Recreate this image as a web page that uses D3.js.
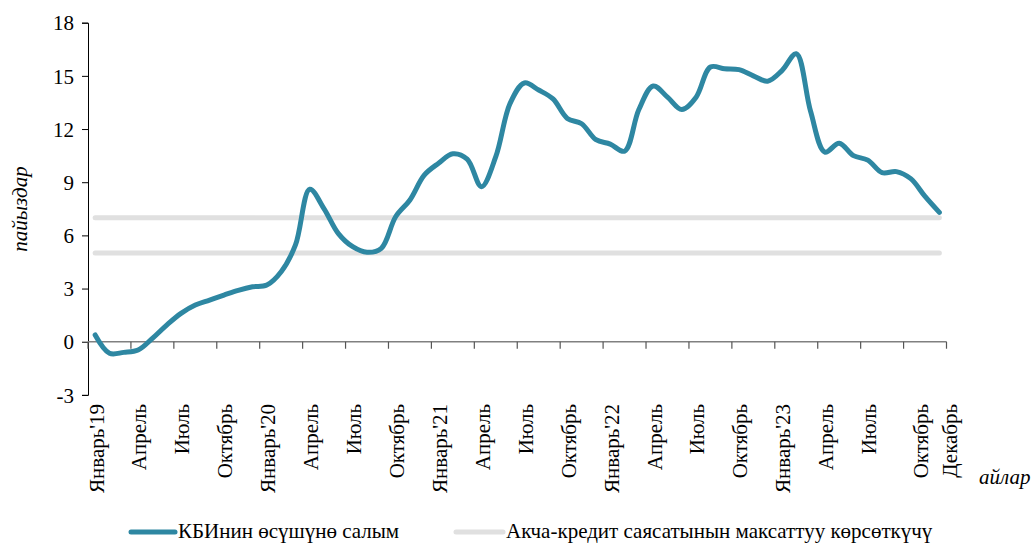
<!DOCTYPE html>
<html>
<head>
<meta charset="utf-8">
<script src="https://cdn.jsdelivr.net/npm/d3@7"></script>
<style>
  body { margin: 0; background: #fff; }
</style>
</head>
<body>
<svg id="chart" width="1033" height="544" font-family="'Liberation Serif', 'Times New Roman', serif"></svg>
<script>
// Months Jan 2019 .. Dec 2023
const months = d3.range(60);

// Contribution to CPI growth, %
const cpiContribution = [
  0.38, -0.65, -0.6, -0.47, 0.19, 0.94, 1.6, 2.07, 2.35, 2.63, 2.9, 3.1,
  3.2, 3.95, 5.46, 8.6, 7.5, 6.1, 5.36, 5.05, 5.27, 7.05, 8.0, 9.4,
  10.07, 10.6, 10.3, 8.75, 10.44, 13.45, 14.6, 14.2, 13.7, 12.6, 12.3, 11.4,
  11.15, 10.75, 13.1, 14.43, 13.8, 13.1, 13.8, 15.5, 15.4, 15.35, 15.0, 14.7,
  15.3, 16.25, 13.0, 10.7, 11.2, 10.5, 10.25, 9.54, 9.6, 9.2, 8.2, 7.3
];

// Monetary policy target band
const targetBand = [7, 5];

// Tick labels (category index -> label)
const tickLabels = [
  [0, "Январь'19"], [3, "Апрель"], [6, "Июль"], [9, "Октябрь"],
  [12, "Январь'20"], [15, "Апрель"], [18, "Июль"], [21, "Октябрь"],
  [24, "Январь'21"], [27, "Апрель"], [30, "Июль"], [33, "Октябрь"],
  [36, "Январь'22"], [39, "Апрель"], [42, "Июль"], [45, "Октябрь"],
  [48, "Январь'23"], [51, "Апрель"], [54, "Июль"], [57, "Октябрь"],
  [59, "Декабрь"]
];
const yTicks = [-3, 0, 3, 6, 9, 12, 15, 18];

const legendNames = ["КБИнин өсүшүнө салым", "Акча-кредит саясатынын максаттуу көрсөткүчү"];
const lineColor = "#2e87a2";
const bandColor = "#e0e0e0";
const serif = "'Liberation Serif', 'Times New Roman', serif";
const fs = 21;

const svg = d3.select("#chart");
const plotLeft = 88, plotRight = 946.5, plotTop = 22.7, plotBottom = 394.9;

const x = d3.scaleBand().domain(months).range([plotLeft, plotRight]);
const cx = i => x(i) + x.bandwidth() / 2;
const y = d3.scaleLinear().domain([-3, 18]).range([plotBottom, plotTop]);

// Y axis
const yAxis = svg.append("g")
  .attr("transform", `translate(${plotLeft},0)`)
  .call(d3.axisLeft(y).tickValues(yTicks).tickFormat(d => String(d)).tickSize(6).tickPadding(8));
yAxis.attr("font-family", serif).attr("font-size", fs);
yAxis.select(".domain").attr("stroke", "#000");
yAxis.selectAll(".tick line").attr("stroke", "#000");
yAxis.selectAll(".tick text").attr("dy", "0.34em");

// X axis at zero
const xAxisG = svg.append("g").attr("transform", `translate(0,${y(0)})`);
xAxisG.append("line")
  .attr("x1", plotLeft).attr("x2", plotRight)
  .attr("stroke", "#808080").attr("stroke-width", 1.5);
const tickIdx = d3.range(0, 60, 3).concat([60]);
xAxisG.selectAll(".xt").data(tickIdx).enter().append("line")
  .attr("x1", d => plotLeft + d * x.step()).attr("x2", d => plotLeft + d * x.step())
  .attr("y1", 0).attr("y2", 7)
  .attr("stroke", "#555").attr("stroke-width", 1.2);

// X labels
svg.selectAll(".xl").data(tickLabels).enter().append("text")
  .attr("transform", d => `translate(${cx(d[0]) + (d[0] >= 57 ? 9 : 0) + 1},${plotBottom + 9}) rotate(-90)`)
  .attr("dy", "0.35em")
  .attr("text-anchor", "end")
  .attr("font-family", serif)
  .attr("font-size", fs)
  .text(d => d[1]);

// Target band lines
svg.selectAll(".band").data(targetBand).enter().append("line")
  .attr("x1", cx(0)).attr("x2", cx(59))
  .attr("y1", d => y(d)).attr("y2", d => y(d))
  .attr("stroke", bandColor).attr("stroke-width", 5).attr("stroke-linecap", "round");

// CPI line
const line = d3.line()
  .x((d, i) => cx(i))
  .y(d => y(d))
  .curve(d3.curveCatmullRom.alpha(0.5));
svg.append("path")
  .datum(cpiContribution)
  .attr("d", line)
  .attr("fill", "none")
  .attr("stroke", lineColor).attr("stroke-width", 5)
  .attr("stroke-linecap", "round").attr("stroke-linejoin", "round");

// Axis titles
svg.append("text")
  .attr("transform", "translate(27,209) rotate(-90)")
  .attr("text-anchor", "middle")
  .attr("font-family", serif).attr("font-size", fs).attr("font-style", "italic")
  .text("пайыздар");
svg.append("text")
  .attr("x", 979).attr("y", 484)
  .attr("font-family", serif).attr("font-size", fs).attr("font-style", "italic")
  .text("айлар");

// Legend
const legend = [
  { name: legendNames[0], color: lineColor, x1: 131, x2: 175 },
  { name: legendNames[1], color: bandColor, x1: 456, x2: 503 }
];
const lg = svg.selectAll(".lg").data(legend).enter().append("g");
lg.append("line")
  .attr("x1", d => d.x1).attr("x2", d => d.x2)
  .attr("y1", 532).attr("y2", 532)
  .attr("stroke", d => d.color).attr("stroke-width", 5).attr("stroke-linecap", "round");
lg.append("text")
  .attr("x", d => d.x2 + 3).attr("y", 538)
  .attr("font-family", serif).attr("font-size", fs)
  .text(d => d.name);
</script>
</body>
</html>
